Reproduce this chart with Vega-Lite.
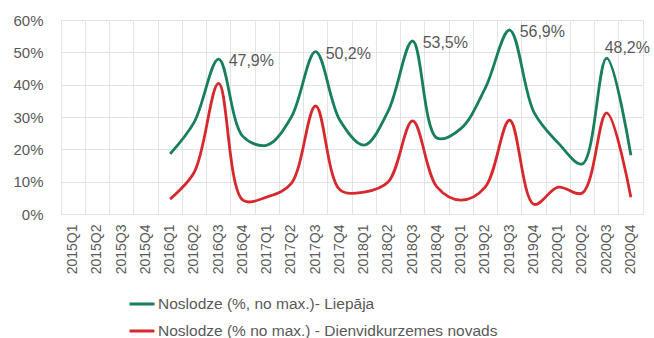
{
  "$schema": "https://vega.github.io/schema/vega-lite/v6.json",
  "width": 582,
  "height": 194,
  "autosize": {"type": "none"},
  "padding": {"left": 61, "top": 20, "right": 11, "bottom": 124},
  "background": "white",
  "config": {
    "font": "Liberation Sans",
    "view": {"stroke": "#e3e3e3", "strokeWidth": 1},
    "locale": {"number": {"decimal": ",", "thousands": " ", "grouping": [3], "currency": ["", " €"]}},
    "axis": {"gridColor": "#e3e3e3", "gridWidth": 1, "domain": false, "ticks": false, "labelColor": "#595959", "title": null}
  },
  "datasets": {
    "d": [
      {"q": "2016Q1", "s": "Noslodze (%, no max.)- Liepāja", "v": 0.186},
      {"q": "2016Q2", "s": "Noslodze (%, no max.)- Liepāja", "v": 0.285},
      {"q": "2016Q3", "s": "Noslodze (%, no max.)- Liepāja", "v": 0.479},
      {"q": "2016Q4", "s": "Noslodze (%, no max.)- Liepāja", "v": 0.24},
      {"q": "2017Q1", "s": "Noslodze (%, no max.)- Liepāja", "v": 0.213},
      {"q": "2017Q2", "s": "Noslodze (%, no max.)- Liepāja", "v": 0.3},
      {"q": "2017Q3", "s": "Noslodze (%, no max.)- Liepāja", "v": 0.502},
      {"q": "2017Q4", "s": "Noslodze (%, no max.)- Liepāja", "v": 0.29},
      {"q": "2018Q1", "s": "Noslodze (%, no max.)- Liepāja", "v": 0.213},
      {"q": "2018Q2", "s": "Noslodze (%, no max.)- Liepāja", "v": 0.32},
      {"q": "2018Q3", "s": "Noslodze (%, no max.)- Liepāja", "v": 0.535},
      {"q": "2018Q4", "s": "Noslodze (%, no max.)- Liepāja", "v": 0.235},
      {"q": "2019Q1", "s": "Noslodze (%, no max.)- Liepāja", "v": 0.265},
      {"q": "2019Q2", "s": "Noslodze (%, no max.)- Liepāja", "v": 0.39},
      {"q": "2019Q3", "s": "Noslodze (%, no max.)- Liepāja", "v": 0.569},
      {"q": "2019Q4", "s": "Noslodze (%, no max.)- Liepāja", "v": 0.315},
      {"q": "2020Q1", "s": "Noslodze (%, no max.)- Liepāja", "v": 0.22},
      {"q": "2020Q2", "s": "Noslodze (%, no max.)- Liepāja", "v": 0.155},
      {"q": "2020Q3", "s": "Noslodze (%, no max.)- Liepāja", "v": 0.482},
      {"q": "2020Q4", "s": "Noslodze (%, no max.)- Liepāja", "v": 0.182},
      {"q": "2016Q1", "s": "Noslodze (% no max.) - Dienvidkurzemes novads", "v": 0.046},
      {"q": "2016Q2", "s": "Noslodze (% no max.) - Dienvidkurzemes novads", "v": 0.13},
      {"q": "2016Q3", "s": "Noslodze (% no max.) - Dienvidkurzemes novads", "v": 0.404},
      {"q": "2016Q4", "s": "Noslodze (% no max.) - Dienvidkurzemes novads", "v": 0.043},
      {"q": "2017Q1", "s": "Noslodze (% no max.) - Dienvidkurzemes novads", "v": 0.053},
      {"q": "2017Q2", "s": "Noslodze (% no max.) - Dienvidkurzemes novads", "v": 0.095},
      {"q": "2017Q3", "s": "Noslodze (% no max.) - Dienvidkurzemes novads", "v": 0.334},
      {"q": "2017Q4", "s": "Noslodze (% no max.) - Dienvidkurzemes novads", "v": 0.075},
      {"q": "2018Q1", "s": "Noslodze (% no max.) - Dienvidkurzemes novads", "v": 0.068},
      {"q": "2018Q2", "s": "Noslodze (% no max.) - Dienvidkurzemes novads", "v": 0.1},
      {"q": "2018Q3", "s": "Noslodze (% no max.) - Dienvidkurzemes novads", "v": 0.288},
      {"q": "2018Q4", "s": "Noslodze (% no max.) - Dienvidkurzemes novads", "v": 0.084},
      {"q": "2019Q1", "s": "Noslodze (% no max.) - Dienvidkurzemes novads", "v": 0.043},
      {"q": "2019Q2", "s": "Noslodze (% no max.) - Dienvidkurzemes novads", "v": 0.084},
      {"q": "2019Q3", "s": "Noslodze (% no max.) - Dienvidkurzemes novads", "v": 0.29},
      {"q": "2019Q4", "s": "Noslodze (% no max.) - Dienvidkurzemes novads", "v": 0.03},
      {"q": "2020Q1", "s": "Noslodze (% no max.) - Dienvidkurzemes novads", "v": 0.083},
      {"q": "2020Q2", "s": "Noslodze (% no max.) - Dienvidkurzemes novads", "v": 0.065},
      {"q": "2020Q3", "s": "Noslodze (% no max.) - Dienvidkurzemes novads", "v": 0.313},
      {"q": "2020Q4", "s": "Noslodze (% no max.) - Dienvidkurzemes novads", "v": 0.052}
    ]
  },
  "data": {"name": "d"},
  "encoding": {
    "x": {
      "field": "q", "type": "ordinal",
      "scale": {"type": "band", "paddingInner": 0, "paddingOuter": 0,
        "domain": ["2015Q1","2015Q2","2015Q3","2015Q4","2016Q1","2016Q2","2016Q3","2016Q4","2017Q1","2017Q2","2017Q3","2017Q4","2018Q1","2018Q2","2018Q3","2018Q4","2019Q1","2019Q2","2019Q3","2019Q4","2020Q1","2020Q2","2020Q3","2020Q4"]},
      "axis": {"labelAngle": -90, "labelFontSize": 14, "labelPadding": 10, "grid": true, "gridColor": "#e3e3e3", "bandPosition": 0}
    },
    "y": {
      "field": "v", "type": "quantitative",
      "scale": {"domain": [0, 0.6], "nice": false},
      "axis": {"values": [0, 0.1, 0.2, 0.3, 0.4, 0.5, 0.6], "format": ".0%", "labelFontSize": 15, "labelPadding": 18, "grid": true}
    }
  },
  "layer": [
    {
      "mark": {"type": "line", "interpolate": "catmull-rom", "strokeWidth": 2.8},
      "encoding": {
        "color": {
          "field": "s", "type": "nominal",
          "scale": {"domain": ["Noslodze (%, no max.)- Liepāja", "Noslodze (% no max.) - Dienvidkurzemes novads"], "range": ["#177f5b", "#d6282d"]},
          "legend": {"title": null, "orient": "none", "legendX": 67, "legendY": 270, "direction": "vertical", "symbolType": "stroke", "symbolSize": 625, "symbolStrokeWidth": 3, "labelFontSize": 15.5, "labelColor": "#595959", "labelOffset": 2, "rowPadding": 4, "labelLimit": 500}
        }
      }
    },
    {
      "transform": [{"filter": {"field": "q", "oneOf": ["2016Q3", "2017Q3", "2018Q3", "2019Q3"]}}, {"filter": "indexof(datum.s, 'Liep') >= 0"}],
      "mark": {"type": "text", "align": "left", "baseline": "middle", "dx": 10, "dy": 2, "fontSize": 16, "color": "#595959"},
      "encoding": {"text": {"field": "v", "type": "quantitative", "format": ".1%"}}
    },
    {
      "transform": [{"filter": {"field": "q", "oneOf": ["2020Q3"]}}, {"filter": "indexof(datum.s, 'Liep') >= 0"}],
      "mark": {"type": "text", "align": "left", "baseline": "middle", "dx": -2, "dy": -10, "fontSize": 16, "color": "#595959"},
      "encoding": {"text": {"field": "v", "type": "quantitative", "format": ".1%"}}
    }
  ]
}
